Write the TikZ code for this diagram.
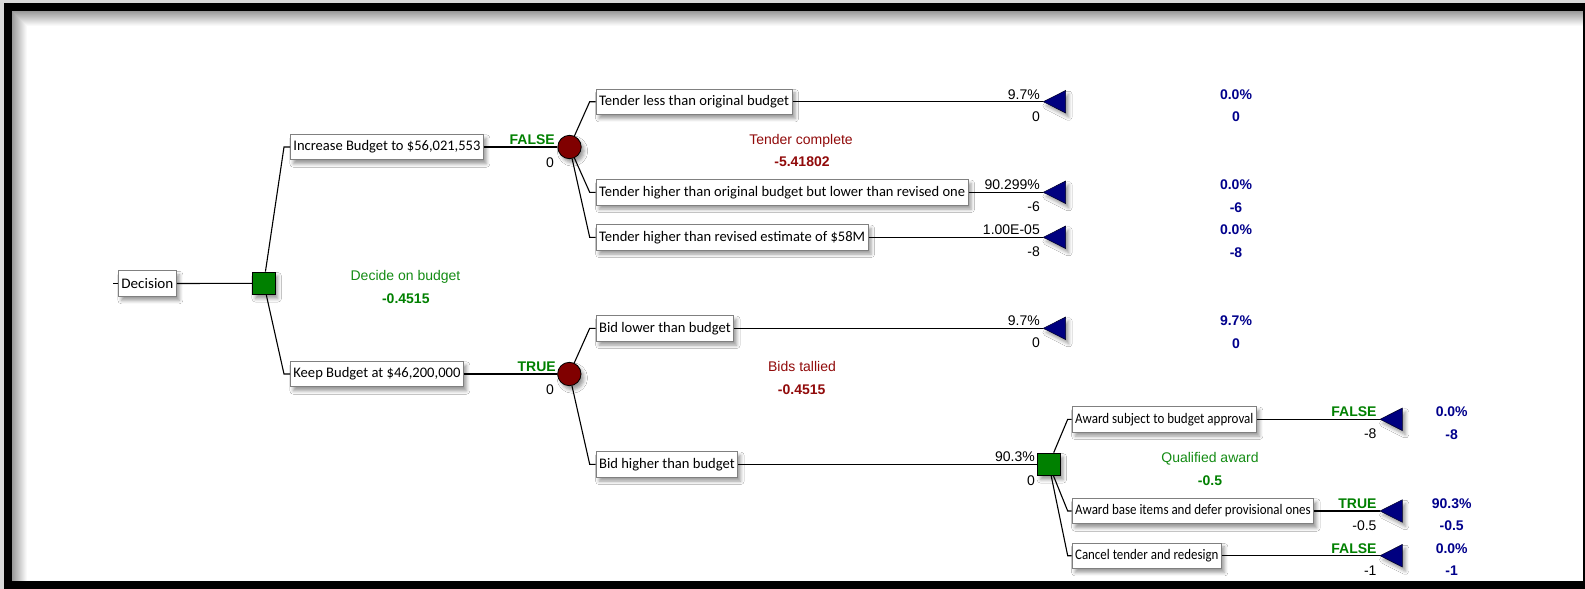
\documentclass[tikz,border=0pt]{standalone}
\usepackage{fontspec}
\usepackage{graphicx}
\setmainfont{Liberation Sans}
\newfontfamily\carl{Carlito}
\usetikzlibrary{shadows.blur}
\definecolor{dgreen}{RGB}{0,128,0}
\definecolor{tgreen}{RGB}{20,140,20}
\definecolor{maroonc}{RGB}{128,0,0}
\definecolor{mtext}{RGB}{145,10,10}
\definecolor{navyc}{RGB}{0,0,128}
\definecolor{btext}{RGB}{0,0,140}
\newcommand\fitw[2]{\resizebox{#1pt}{\height}{#2}}
\begin{document}
\begin{tikzpicture}[x=1pt,y=-1pt,
  every node/.style={font=\fontsize{14}{16}\selectfont},
  shad/.style={blur shadow={shadow xshift=3pt, shadow yshift=-4pt, shadow blur radius=3.5pt, shadow opacity=40}},
  box/.style={draw=black!50, line width=0.8pt, fill=white, font=\carl\fontsize{14.6}{16}\selectfont,
    minimum height=25.5pt, inner xsep=3pt, inner ysep=0pt, anchor=west, shad},
  dsq/.style={draw=black, line width=0.8pt, fill=dgreen, minimum size=22.5pt, inner sep=0pt, shad},
  chn/.style={circle, draw=black, line width=0.8pt, fill=maroonc, minimum size=23.4pt, inner sep=0pt, shad},
  term/.style={fill=navyc, draw=black!70!navyc, line width=0.5pt, shad},
  conn/.style={line width=1.1pt, black},
  lab/.style={inner sep=0pt},
  plain/.style={text=black},
  gbold/.style={text=dgreen, font=\bfseries\fontsize{14}{16}\selectfont},
  rbold/.style={text=mtext, font=\bfseries\fontsize{14}{16}\selectfont},
  bbold/.style={text=btext, font=\bfseries\fontsize{14}{16}\selectfont}]
\useasboundingbox (0,0) rectangle (1585,589);
% frame
\fill[black!15] (0,0) rectangle (1585,589);
\fill[black] (4,3) rectangle (1585,589);
\fill[white] (12,11) rectangle (1583,581);
\foreach \k in {0,...,14}{
  \pgfmathsetmacro\g{40-2.7*\k}
  \draw[black!\g, line width=1.05pt] (12.5+\k,581) -- (12.5+\k,11.5+\k) -- (1583,11.5+\k);
}
% nodes
\node[box] (dec) at (118,283.5) {\fitw{52}{Decision}};
\coordinate (stub) at (113,283.5);
\node[dsq] (d1) at (263.7,283.3) {};
\node[box] (inc) at (290,147) {\fitw{187}{Increase Budget to \$56,021,553}};
\node[box] (keep) at (290,374) {\fitw{167}{Keep Budget at \$46,200,000}};
\node[chn] (c1) at (569.5,147) {};
\node[chn] (c2) at (569.3,374) {};
\node[box] (t1) at (595.7,101.7) {\fitw{190}{Tender less than original budget}};
\node[box] (t2) at (595.7,192.3) {\fitw{366}{Tender higher than original budget but lower than revised one}};
\node[box] (t3) at (595.7,237.3) {\fitw{266}{Tender higher than revised estimate of \$58M}};
\node[box] (b1) at (595.7,328.3) {\fitw{131.6}{Bid lower than budget}};
\node[box] (b2) at (595.7,464.3) {\fitw{135.6}{Bid higher than budget}};
\node[dsq] (d2) at (1048.8,464.3) {};
\node[box] (a1) at (1071.7,419.3) {\fitw{178.3}{Award subject to budget approval}};
\node[box] (a2) at (1071.7,511) {\fitw{235.6}{Award base items and defer provisional ones}};
\node[box] (a3) at (1071.7,555.7) {\fitw{143.3}{Cancel tender and redesign}};
% connectors
\draw[conn] (stub) -- (dec.west);
\draw[conn] (dec.east) -- (d1);
\draw[conn] (d1) -- ([xshift=-6pt]inc.west) -- (inc.west);
\draw[conn] (d1) -- ([xshift=-6pt]keep.west) -- (keep.west);
\draw[conn] (inc.east) -- (c1);
\draw[conn] (keep.east) -- (c2);
\foreach \n in {t1,t2,t3} \draw[conn] (c1) -- ([xshift=-6pt]\n.west) -- (\n.west);
\foreach \n in {b1,b2} \draw[conn] (c2) -- ([xshift=-6pt]\n.west) -- (\n.west);
\draw[conn] (b2.east) -- (d2);
\foreach \n in {a1,a2,a3} \draw[conn] (d2) -- ([xshift=-4pt]\n.west) -- (\n.west);
% terminals
\foreach \src/\tx/\ty/\bx/\ta/\tb/\ca/\cb/\sty [count=\i] in {
  t1/1043.3/101.7/1236/{9.7\%}/0/{0.0\%}/0/plain,
  t2/1043.3/192.3/1236/{90.299\%}/-6/{0.0\%}/-6/plain,
  t3/1043.3/237.3/1236/{1.00E-05}/-8/{0.0\%}/-8/plain,
  b1/1043.3/328.3/1236/{9.7\%}/0/{9.7\%}/0/plain,
  a1/1380/419.3/1451.7/FALSE/-8/{0.0\%}/-8/gbold,
  a2/1380/511/1451.7/TRUE/-0.5/{90.3\%}/-0.5/gbold,
  a3/1380/555.7/1451.7/FALSE/-1/{0.0\%}/-1/gbold}{
  \coordinate (e\i) at (\tx,\ty);
  \draw[conn] (\src.east) -- (e\i);
  \filldraw[term] (e\i) -- ++(22.4,-11.3) -- ++(0,22.6) -- cycle;
  \node[lab,\sty,anchor=base east] (pa\i) at ([shift={(-3.3,-2.5)}]e\i) {\ta};
  \node[lab,plain,anchor=base east] (pb\i) at ([shift={(-3.3,19.5)}]e\i) {\tb};
  \node[lab,bbold,anchor=base] (qa\i) at (\bx,{\ty-2.5}) {\ca};
  \node[lab,bbold,anchor=base] (qb\i) at (\bx,{\ty+19.8}) {\cb};
}
% node labels
\node[lab,gbold,anchor=base east] (l1) at (555,144.5) {FALSE};
\node[lab,anchor=base east] (l2) at (554,167.5) {0};
\node[lab,gbold,anchor=base east] (l3) at (556,371.5) {TRUE};
\node[lab,anchor=base east] (l4) at (554,394) {0};
\node[lab,anchor=base east] (l5) at (1035,461.5) {90.3\%};
\node[lab,anchor=base east] (l6) at (1035,485) {0};
% value labels
\node[lab,text=tgreen,anchor=base] (n1) at (405.5,280.7) {Decide on budget};
\node[lab,gbold,anchor=base] (n1v) at (405.8,303.3) {-0.4515};
\node[lab,text=mtext,anchor=base] (n2) at (801,144.3) {Tender complete};
\node[lab,rbold,anchor=base] (n2v) at (802,166.7) {-5.41802};
\node[lab,text=mtext,anchor=base] (n3) at (802,371) {Bids tallied};
\node[lab,rbold,anchor=base] (n3v) at (801.7,394.3) {-0.4515};
\node[lab,text=tgreen,anchor=base] (n4) at (1210,462.3) {Qualified award};
\node[lab,gbold,anchor=base] (n4v) at (1210,485) {-0.5};
\end{tikzpicture}
\end{document}
